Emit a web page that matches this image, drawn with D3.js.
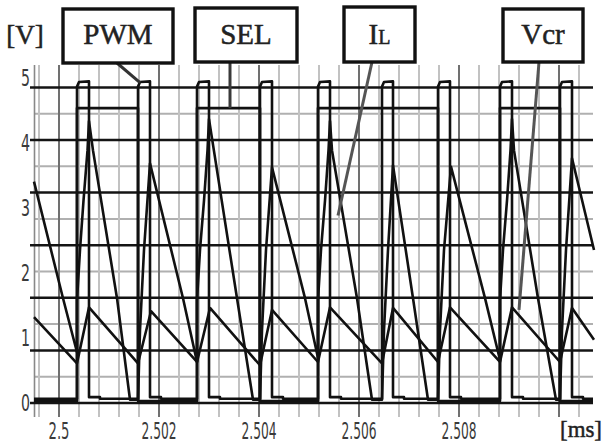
<!DOCTYPE html>
<html>
<head>
<meta charset="utf-8">
<script src="https://cdn.jsdelivr.net/npm/d3@7"></script>
<style>
  html, body { margin: 0; padding: 0; background: #fff; overflow: hidden; }
  svg { display: block; }
</style>
</head>
<body>
<div id="chart"></div>
<script>
// scope capture: PWM / SEL / IL / Vcr, time in ms, level in V
const xTicks = [2.5, 2.502, 2.504, 2.506, 2.508];
const xTickLabels = ["2.5", "2.502", "2.504", "2.506", "2.508"];
const yTicks = [0, 1, 2, 3, 4, 5];

// PWM pulse edges (ms) and levels (V)
const pwmRise = [2.50036, 2.50158, 2.50276, 2.50402, 2.50518, 2.50646, 2.50758, 2.50882, 2.51002];
const pwmFall = [2.5006, 2.50182, 2.503, 2.50426, 2.50542, 2.50668, 2.50782, 2.50906, 2.51026];
const pwmHigh = [4.86, 4.93, 4.94];
const pwmLow = [0.09, 0.065];
const pwmLowStep = 0.00022;

// SEL edges and levels
const selRise = [2.50036, 2.50276, 2.50518, 2.50882];
const selFall = [2.50158, 2.50402, 2.50758, 2.51002];
const selLevels = [0.03, 4.53];

// IL (t, V)
const ilPts = [
  [2.4995, 3.40], [2.50008, 1.61], [2.50036, 0.78],
  [2.50036, 1.58], [2.50042, 2.35], [2.50049, 3.11], [2.50057, 3.88], [2.5006, 4.33],
  [2.50068, 3.88], [2.50116, 1.61], [2.50142, 0.05], [2.50158, 0.05],
  [2.50162, 1.12], [2.5017, 2.35], [2.50182, 3.68],
  [2.50248, 1.61], [2.50276, 0.63],
  [2.50276, 1.58], [2.50282, 2.35], [2.5029, 3.11], [2.50297, 3.88], [2.503, 4.36],
  [2.50356, 1.61], [2.50388, 0.05], [2.50402, 0.05],
  [2.50406, 1.12], [2.50414, 2.35], [2.50426, 3.62],
  [2.50492, 1.61], [2.50518, 0.69],
  [2.50518, 1.58], [2.50524, 2.35], [2.50532, 3.11], [2.50539, 3.88], [2.50542, 4.33],
  [2.50546, 3.88], [2.50596, 1.61], [2.50626, 0.05], [2.50646, 0.05],
  [2.5065, 1.12], [2.50658, 2.35], [2.50668, 3.65],
  [2.50708, 1.61], [2.50738, 0.05], [2.50758, 0.05],
  [2.50762, 1.12], [2.5077, 2.35], [2.50784, 3.63],
  [2.50852, 1.61], [2.50882, 0.66],
  [2.50882, 1.58], [2.50888, 2.35], [2.50896, 3.11], [2.50903, 3.88], [2.50906, 4.36],
  [2.5091, 3.88], [2.50958, 1.61], [2.50994, 0.05], [2.51002, 0.05],
  [2.51006, 1.12], [2.51014, 2.35], [2.51026, 3.76],
  [2.5107, 2.35]
];

// Vcr (t, V)
const vcrPts = [
  [2.4995, 1.32], [2.50036, 0.61], [2.5006, 1.47], [2.50158, 0.61],
  [2.50184, 1.41], [2.50276, 0.63], [2.50302, 1.46], [2.50402, 0.58],
  [2.50426, 1.43], [2.50518, 0.63], [2.50542, 1.47], [2.50646, 0.61],
  [2.50668, 1.46], [2.50758, 0.63], [2.50782, 1.47], [2.50882, 0.63],
  [2.50906, 1.47], [2.51002, 0.63], [2.51026, 1.46], [2.5107, 0.97]
];

// callout labels and the trace point each one points at (t, V)
const labels = ["PWM", "SEL", "IL", "Vcr"];
const labelTargets = [[2.50162, 4.92], [2.50342, 4.53], [2.50558, 2.88], [2.5092, 1.43]];

(() => {
  const W = 605, H = 445;
  const INK = "#111";
  const SERIF = "'Liberation Serif', 'Times New Roman', Times, Tinos, 'DejaVu Serif', 'Noto Serif', serif";
  const NARROW = "'Liberation Sans Narrow', 'DejaVu Sans Condensed', 'Liberation Sans', sans-serif";

  const x = d3.scaleLinear().domain([2.4995, 2.51068]).range([34, 593]);
  const y = d3.scaleLinear().domain([0, 5]).range([403, 77.5]);

  const svg = d3.select("#chart").append("svg")
    .attr("width", W).attr("height", H)
    .attr("viewBox", `0 0 ${W} ${H}`);

  // grid: vertical every 0.4 µs, horizontal every ~0.404 V
  const vGrid = d3.range(28).map(i => 2.4996 + i * 0.0004);
  const hGrid = d3.range(13).map(k => k * 0.404);
  const GT = 65, GB = 417;

  hGrid.filter((d, k) => k % 2).forEach(v => {
    svg.append("line")
      .attr("x1", 34).attr("x2", 593).attr("y1", y(v)).attr("y2", y(v))
      .attr("stroke", "#b0b0b0").attr("stroke-width", 2);
  });
  vGrid.forEach((t, i) => {
    const major = (i - 1) % 5 === 0;
    svg.append("line")
      .attr("x1", x(t)).attr("x2", x(t)).attr("y1", GT).attr("y2", GB)
      .attr("stroke", major ? "#707070" : "#c2c2c2").attr("stroke-width", 2);
  });
  svg.append("line")
    .attr("x1", 34.5).attr("x2", 34.5).attr("y1", GT).attr("y2", GB)
    .attr("stroke", "#888").attr("stroke-width", 1.6);
  hGrid.filter((d, k) => k % 2 === 0).forEach(v => {
    svg.append("line")
      .attr("x1", 30).attr("x2", 593).attr("y1", y(v)).attr("y2", y(v))
      .attr("stroke", "#141414").attr("stroke-width", 2.5);
  });

  // tick labels (narrow scope font)
  yTicks.forEach(v => {
    svg.append("text")
      .attr("x", 30).attr("y", y(v))
      .attr("text-anchor", "end").attr("dominant-baseline", "central")
      .attr("textLength", 9).attr("lengthAdjust", "spacingAndGlyphs")
      .attr("font-family", NARROW).attr("font-size", 23).attr("fill", "#3a3a3a")
      .text(v);
  });
  xTicks.forEach((t, i) => {
    const s = xTickLabels[i];
    svg.append("text")
      .attr("x", x(t)).attr("y", 431)
      .attr("text-anchor", "middle").attr("dominant-baseline", "central")
      .attr("textLength", s.length > 3 ? 35 : 21).attr("lengthAdjust", "spacingAndGlyphs")
      .attr("font-family", NARROW).attr("font-size", 23).attr("fill", "#3a3a3a")
      .text(s);
  });

  // unit labels, slightly heavier like the scanned original
  const heavy = sel => sel.attr("stroke", "#222").attr("stroke-width", 0.5);
  heavy(svg.append("text")
    .attr("x", 25).attr("y", 44).attr("text-anchor", "middle")
    .attr("font-family", SERIF).attr("font-size", 27).attr("fill", "#222")
    .text("[V]"));
  heavy(svg.append("text")
    .attr("x", 560).attr("y", 437)
    .attr("textLength", 42).attr("lengthAdjust", "spacingAndGlyphs")
    .attr("font-family", SERIF).attr("font-size", 24).attr("fill", "#222")
    .text("[ms]"));

  // traces
  const line = d3.line().x(d => x(d[0])).y(d => y(d[1]));
  const plot = pts => svg.append("path")
    .attr("d", line(pts))
    .attr("fill", "none").attr("stroke", INK)
    .attr("stroke-width", 2.6).attr("stroke-linejoin", "round");

  // PWM step trace from edge lists
  const pwmPts = [[x.domain()[0], pwmLow[1]]];
  pwmRise.forEach((r, i) => {
    const f = pwmFall[i];
    pwmPts.push([r, pwmLow[1]], [r, pwmHigh[0]], [r + 0.00004, pwmHigh[1]], [f, pwmHigh[2]],
      [f, pwmLow[0]], [f + pwmLowStep, pwmLow[0]], [f + pwmLowStep, pwmLow[1]]);
  });
  pwmPts.push([x.domain()[1], pwmLow[1]]);

  // SEL step trace
  const selPts = [[x.domain()[0], selLevels[0]]];
  selRise.forEach((r, i) => {
    const f = selFall[i];
    selPts.push([r, selLevels[0]], [r, selLevels[1]], [f, selLevels[1]], [f, selLevels[0]]);
  });
  selPts.push([x.domain()[1], selLevels[0]]);

  plot(selPts);
  plot(pwmPts);
  plot(vcrPts);
  plot(ilPts);

  // callout boxes
  const boxes = [
    { x0: 63, y0: 9, x1: 173, y1: 63, sx: 117, col: "#333" },
    { x0: 195, y0: 8, x1: 297, y1: 62, sx: 230, col: "#3a3a3a" },
    { x0: 344, y0: 7, x1: 415, y1: 62, sx: 372, col: "#555" },
    { x0: 503, y0: 9, x1: 583, y1: 62, sx: 539, col: "#555" }
  ];
  boxes.forEach((b, i) => {
    const tgt = labelTargets[i];
    const tx = i === 1 ? b.sx : x(tgt[0]);
    svg.append("line")
      .attr("x1", b.sx).attr("y1", b.y1)
      .attr("x2", tx).attr("y2", y(tgt[1]))
      .attr("stroke", b.col).attr("stroke-width", 3);
    svg.append("rect")
      .attr("x", b.x0).attr("y", b.y0)
      .attr("width", b.x1 - b.x0).attr("height", b.y1 - b.y0)
      .attr("fill", "#fff").attr("stroke", "#111").attr("stroke-width", 3.4);
    const t = heavy(svg.append("text")
      .attr("x", (b.x0 + b.x1) / 2).attr("y", 44)
      .attr("text-anchor", "middle")
      .attr("font-family", SERIF).attr("font-size", 29).attr("fill", "#222"));
    if (labels[i] === "IL") {
      t.append("tspan").text("I");
      t.append("tspan").attr("font-size", 20).text("L");
    } else {
      t.text(labels[i]);
    }
  });
})();
</script>
</body>
</html>
